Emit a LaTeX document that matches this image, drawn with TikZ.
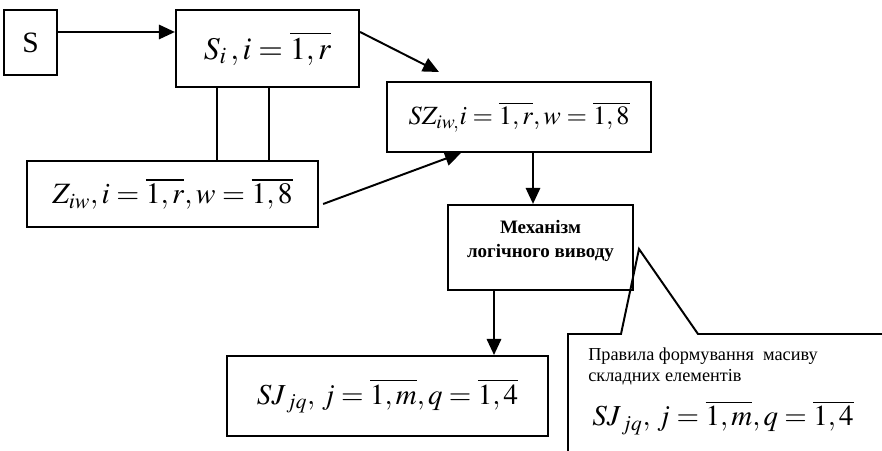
\documentclass[tikz,border=0pt]{standalone}
\usepackage{mathptmx}
\usepackage{fontspec}
\setmainfont{Liberation Serif}
\usetikzlibrary{arrows.meta,positioning,calc}
\tikzset{
  block/.style={draw=black,line width=1.4pt,inner sep=0pt,align=center},
  arrow/.style={-{Triangle[length=4mm,width=3.6mm]},draw=black,line width=1.4pt},
  link/.style={draw=black,line width=1.4pt},
  note/.style={inner sep=0pt,align=left,font=\fontsize{13}{15.6}\selectfont},
  fs/.style={font=\fontsize{#1}{#1}\selectfont}
}

\begin{document}
\begin{tikzpicture}[x=0.025cm,y=-0.025cm]
  \useasboundingbox (0,0) rectangle (882,451);
  % blocks
  \node[block,fs=21,minimum width=1.33cm,minimum height=1.63cm] (s) at (30.5,42.5) {S};
  \node[block,fs=22.5,minimum width=4.58cm,minimum height=1.93cm] (si) at (267.5,48.5) {$S_{i}\,,i=\overline{1,r}$};
  \node[block,fs=21,minimum width=7.28cm,minimum height=1.65cm] (ziw) at (172.5,194) {$Z_{iw},i=\overline{1,r},w=\overline{1,8}$};
  \node[block,fs=18.7,minimum width=6.6cm,minimum height=1.75cm] (sziw) at (519,117) {$SZ_{iw,}i=\overline{1,r},w=\overline{1,8}$};
  \node[block,minimum width=4.63cm,minimum height=2.13cm] (mech) at (540.5,247.5) {};
  \node[note,align=center,font=\fontsize{13.5}{15.5}\bfseries,below=0.4cm of mech.north] (mechtext) {Механізм\\[2pt]логічного виводу};
  \node[block,fs=20.6,minimum width=8.03cm,minimum height=2cm] (sj) at (387.5,396) {$SJ_{\,jq},\,j=\overline{1,m},q=\overline{1,4}$};
  % callout
  \draw[link] (568,451) -- (568,334) -- (621,334) -- (639,249) -- (698,334) -- (882,334);
  \node[note,anchor=base west] (rules) at (588,382) {Правила формування\ \ масиву\\складних елементів};
  \node[note,fs=20.6,anchor=base west] (rulessj) at (592,426) {$SJ_{\,jq},\,j=\overline{1,m},q=\overline{1,4}$};
  % connectors
  \draw[arrow] ([shift={(0,-10.5)}]s.east) -- ([shift={(0,-10.5)}]s.east -| si.west);
  \draw[arrow] ([shift={(0,-16.5)}]si.east) -- ([shift={(53,-9)}]sziw.north west);
  \draw[link] ([shift={(-50.5,0)}]si.south) -- ([shift={(-50.5,0)}]si.south |- ziw.north);
  \draw[link] ([shift={(1.5,0)}]si.south) -- ([shift={(1.5,0)}]si.south |- ziw.north);
  \draw[arrow] ([shift={(4,10)}]ziw.east) -- ([shift={(75,0)}]sziw.south west);
  \draw[arrow] ([shift={(14,0)}]sziw.south) -- ([shift={(14,0)}]sziw.south |- mech.north);
  \draw[arrow] ([shift={(-46.5,0)}]mech.south) -- ([shift={(-46.5,0)}]mech.south |- sj.north);
\end{tikzpicture}
\end{document}
